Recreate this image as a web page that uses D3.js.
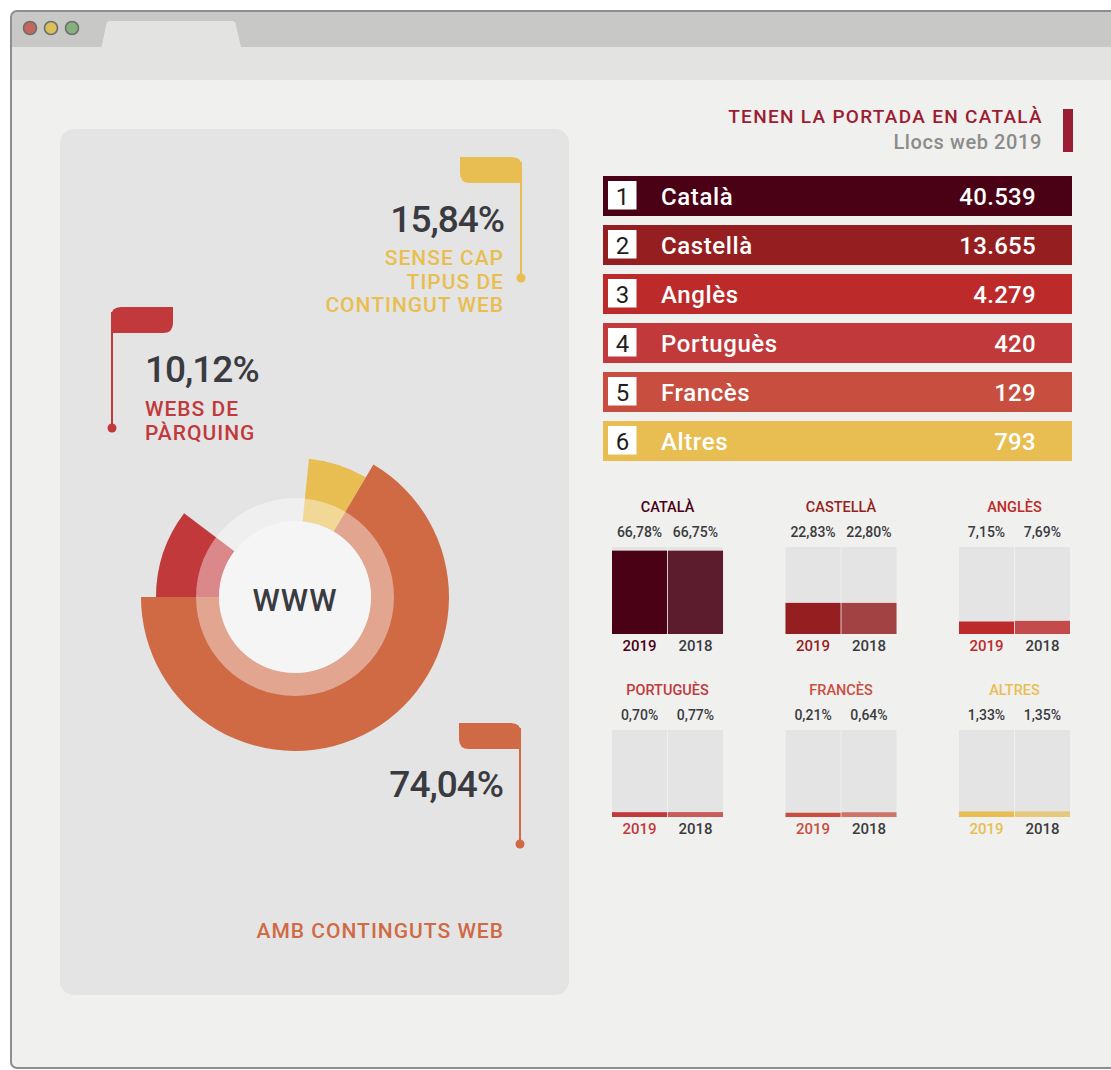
<!DOCTYPE html>
<html>
<head>
<meta charset="utf-8">
<script src="https://cdn.jsdelivr.net/npm/d3@7"></script>
<style>
  body { margin: 0; background: #fff; }
  svg { display: block; font-family: Roboto, "DejaVu Sans", sans-serif; font-weight: 500; }
</style>
</head>
<body>
<div id="chart"></div>
<script>
// --- dades ---
const llengues = ["Català", "Castellà", "Anglès", "Portuguès", "Francès", "Altres"];
const llocs2019 = [40539, 13655, 4279, 420, 129, 793];
const quota2019 = [66.78, 22.83, 7.15, 0.70, 0.21, 1.33];
const quota2018 = [66.75, 22.80, 7.69, 0.77, 0.64, 1.35];
const anys = ["2019", "2018"];

const tipusWeb = ["parquing", "sense", "continguts"];
const tipusPct = [10.12, 15.84, 74.04];
// angles de l'anell tal com es veuen al gràfic (parquing, buit, sense, continguts)
const anellClaus = ["parquing", "buit", "sense", "continguts"];
const anellQuota = [10.3, 16.3, 6.9, 66.5];

// --- estils ---
const colors = ["#4a0015", "#951f20", "#bd2a2a", "#c1393b", "#c84f3f", "#e8be52"];
const opac2018 = [0.88, 0.82, 0.82, 0.8, 0.75, 0.7];
const tipusColor = { parquing: "#c1393b", sense: "#e8be52", continguts: "#cf6a45" };
const fosc = "#3a3b40";

const W = 1111, H = 1070;
const loc = d3.formatLocale({ decimal: ",", thousands: ".", grouping: [3], currency: ["", "€"] });
const fmtInt = loc.format(",d");
const fmtPct = loc.format(".2f");

const svg = d3.select("#chart").append("svg")
    .attr("width", W)
    .attr("height", H);

// --- marc del navegador ---
const defs = svg.append("defs");
defs.append("clipPath").attr("id", "marc")
    .append("rect")
    .attr("x", 11).attr("y", 11)
    .attr("width", 1140).attr("height", 1057)
    .attr("rx", 6);

const marc = svg.append("g").attr("clip-path", "url(#marc)");
marc.append("rect").attr("x", 0).attr("y", 0).attr("width", W + 40).attr("height", H)
    .attr("fill", "#f0f0ee");
marc.append("rect").attr("x", 0).attr("y", 0).attr("width", W + 40).attr("height", 47)
    .attr("fill", "#c8c8c6");
marc.append("rect").attr("x", 0).attr("y", 47).attr("width", W + 40).attr("height", 33)
    .attr("fill", "#e3e3e2");
marc.append("path")
    .attr("d", "M101.5,47 L106.5,23.5 Q107,21 110,21 L232,21 Q235,21 235.5,23.5 L241,47 Z")
    .attr("fill", "#e3e3e2");

svg.append("rect")
    .attr("x", 11).attr("y", 11)
    .attr("width", 1140).attr("height", 1057)
    .attr("rx", 6)
    .attr("fill", "none")
    .attr("stroke", "#8e8e8e")
    .attr("stroke-width", 2);

svg.selectAll(".boto")
    .data(["#c4665e", "#d9c157", "#86b17e"])
    .enter().append("circle")
    .attr("class", "boto")
    .attr("cx", (d, i) => 30 + i * 21)
    .attr("cy", 28)
    .attr("r", 6.5)
    .attr("fill", d => d)
    .attr("stroke", "#6d6d6d")
    .attr("stroke-width", 1.6);

// --- panell esquerre ---
svg.append("rect")
    .attr("x", 60).attr("y", 129)
    .attr("width", 509).attr("height", 866)
    .attr("rx", 14)
    .attr("fill", "#e4e4e4");

// anell
const cx = 295, cy = 597;
const rIn = 76, rMig = 99;
const rOut = { parquing: 139, sense: 139, continguts: 154 };

const pie = d3.pie().sort(null)
    .startAngle(-Math.PI / 2)
    .endAngle(3 * Math.PI / 2);
const llesques = pie(anellQuota).map((d, i) => Object.assign(d, { key: anellClaus[i] }));

const donut = svg.append("g").attr("transform", `translate(${cx},${cy})`);
donut.selectAll(".llesca")
    .data(llesques.filter(d => d.key !== "buit"))
    .enter().append("path")
    .attr("class", "llesca")
    .attr("fill", d => tipusColor[d.key])
    .attr("d", d => d3.arc().innerRadius(rIn).outerRadius(rOut[d.key])(d));

donut.append("path")
    .attr("fill", "#fff")
    .attr("fill-opacity", 0.4)
    .attr("d", d3.arc().innerRadius(rIn).outerRadius(rMig).startAngle(0).endAngle(2 * Math.PI)());

donut.append("circle").attr("r", rIn).attr("fill", "#f5f5f5");
donut.append("text")
    .attr("text-anchor", "middle")
    .attr("y", 14)
    .attr("font-size", 31)
    .attr("letter-spacing", 1)
    .attr("fill", fosc)
    .text("WWW");

// banderes
function bandera(g, x0, y0, costat, color, yPunt) {
    const w = 62, h = 26, r = 10;
    const x1 = x0 + w, y1 = y0 + h;
    let d, xl;
    if (costat === "dreta") {
        d = `M${x0},${y0} H${x1 - r} Q${x1},${y0} ${x1},${y0 + r} V${y1} H${x0 + r} Q${x0},${y1} ${x0},${y1 - r} Z`;
        xl = x1 - 1;
    } else {
        d = `M${x0},${y0 + r} Q${x0},${y0} ${x0 + r},${y0} H${x1} V${y1 - r} Q${x1},${y1} ${x1 - r},${y1} H${x0} Z`;
        xl = x0 + 1;
    }
    g.append("path").attr("d", d).attr("fill", color);
    g.append("line")
        .attr("x1", xl).attr("x2", xl)
        .attr("y1", y0 + 5).attr("y2", yPunt)
        .attr("stroke", color).attr("stroke-width", 2);
    g.append("circle").attr("cx", xl).attr("cy", yPunt).attr("r", 4.5).attr("fill", color);
}

const notes = svg.append("g");
bandera(notes, 460, 157, "dreta", tipusColor.sense, 278);
bandera(notes, 111, 307, "esquerra", tipusColor.parquing, 428);
bandera(notes, 459, 723, "dreta", tipusColor.continguts, 844);

function pctGran(x, y, anchor, v) {
    notes.append("text")
        .attr("x", x).attr("y", y)
        .attr("text-anchor", anchor)
        .attr("font-size", 37)
        .attr("letter-spacing", -1)
        .attr("fill", fosc)
        .text(fmtPct(v) + "%");
}
function etiqueta(x, y0, anchor, color, linies) {
    notes.append("text")
        .attr("text-anchor", anchor)
        .attr("font-size", 21)
        .attr("letter-spacing", 1)
        .attr("fill", color)
        .selectAll("tspan")
        .data(linies)
        .enter().append("tspan")
        .attr("x", x)
        .attr("y", (d, i) => y0 + i * 23.5)
        .text(d => d);
}

pctGran(504, 232, "end", tipusPct[1]);
etiqueta(504, 265, "end", tipusColor.sense, ["SENSE CAP", "TIPUS DE", "CONTINGUT WEB"]);
pctGran(145, 382, "start", tipusPct[0]);
etiqueta(145, 416, "start", tipusColor.parquing, ["WEBS DE", "PÀRQUING"]);
pctGran(503, 797, "end", tipusPct[2]);
etiqueta(504, 938, "end", tipusColor.continguts, ["AMB CONTINGUTS WEB"]);

// --- capçalera dreta ---
svg.append("text")
    .attr("x", 1043).attr("y", 123)
    .attr("text-anchor", "end")
    .attr("font-size", 19)
    .attr("letter-spacing", 1.3)
    .attr("fill", "#9b1d33")
    .text("TENEN LA PORTADA EN CATALÀ");
svg.append("text")
    .attr("x", 1042).attr("y", 149)
    .attr("text-anchor", "end")
    .attr("font-size", 20)
    .attr("letter-spacing", 0.6)
    .attr("fill", "#8b8b8b")
    .text("Llocs web 2019");
svg.append("rect")
    .attr("x", 1063).attr("y", 109)
    .attr("width", 10).attr("height", 43)
    .attr("fill", "#9b1d33");

// --- rànquing ---
const yRank = d3.scaleBand()
    .domain(llengues)
    .range([176, 461])
    .paddingInner(9 / 49);

const rank = svg.selectAll(".rank")
    .data(llengues)
    .enter().append("g")
    .attr("class", "rank")
    .attr("transform", d => `translate(603,${yRank(d)})`);

rank.append("rect")
    .attr("width", 469)
    .attr("height", yRank.bandwidth())
    .attr("fill", (d, i) => colors[i]);
rank.append("rect")
    .attr("x", 5).attr("y", 5)
    .attr("width", 28.5).attr("height", 28.5)
    .attr("fill", "#fff");
rank.append("text")
    .attr("x", 19.5).attr("y", 29)
    .attr("text-anchor", "middle")
    .attr("font-size", 24)
    .attr("font-weight", 400)
    .attr("fill", "#1e1e1e")
    .text((d, i) => i + 1);
rank.append("text")
    .attr("x", 58).attr("y", 28.5)
    .attr("font-size", 24)
    .attr("letter-spacing", 0.6)
    .attr("fill", "#fff")
    .text(d => d);
rank.append("text")
    .attr("x", 433).attr("y", 28.5)
    .attr("text-anchor", "end")
    .attr("font-size", 24)
    .attr("letter-spacing", 0.3)
    .attr("fill", "#fff")
    .text((d, i) => fmtInt(llocs2019[i]));

// --- petits múltiples ---
const xCol = d3.scaleBand().domain([0, 1, 2]).range([612, 1070]).paddingInner(0.36);
const yFila = d3.scaleBand().domain([0, 1]).range([547, 817]).paddingInner(0.5246);
const xAny = d3.scaleBand().domain(anys).range([0, xCol.bandwidth()]).paddingInner(0.015);
const hBox = yFila.bandwidth();
const hBar = d3.scaleLinear().domain([0, 69]).range([4, 86]);

const mult = svg.selectAll(".mult")
    .data(llengues)
    .enter().append("g")
    .attr("class", "mult")
    .attr("transform", (d, i) => `translate(${xCol(i % 3)},${yFila(Math.floor(i / 3))})`);

mult.append("text")
    .attr("x", xCol.bandwidth() / 2)
    .attr("y", -35)
    .attr("text-anchor", "middle")
    .attr("font-size", 14.5)
    .attr("fill", (d, i) => colors[i])
    .text(d => d.toUpperCase());

mult.each(function (d, i) {
    const g = d3.select(this);
    const vals = [quota2019[i], quota2018[i]];
    anys.forEach((a, j) => {
        const x = xAny(a), w = xAny.bandwidth();
        g.append("rect")
            .attr("x", x).attr("width", w)
            .attr("height", hBox)
            .attr("fill", "#e4e4e4");
        const h = hBar(vals[j]);
        g.append("rect")
            .attr("x", x).attr("width", w)
            .attr("y", hBox - h).attr("height", h)
            .attr("fill", colors[i])
            .attr("fill-opacity", j === 0 ? 1 : opac2018[i]);
        g.append("text")
            .attr("x", x + w / 2).attr("y", -10)
            .attr("text-anchor", "middle")
            .attr("font-size", 14)
            .attr("fill", fosc)
            .text(fmtPct(vals[j]) + "%");
        g.append("text")
            .attr("x", x + w / 2).attr("y", hBox + 17)
            .attr("text-anchor", "middle")
            .attr("font-size", 15)
            .attr("fill", j === 0 ? colors[i] : fosc)
            .text(a);
    });
});
</script>
</body>
</html>
